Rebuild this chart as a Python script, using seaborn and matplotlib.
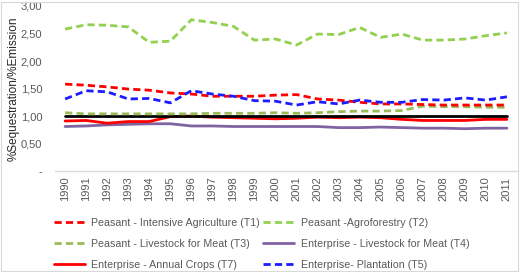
import numpy as np
import pandas as pd
import matplotlib
matplotlib.use("Agg")
import matplotlib.pyplot as plt
import seaborn as sns
from matplotlib.ticker import FixedLocator, FuncFormatter
from matplotlib.lines import Line2D
from matplotlib.patches import Rectangle

years = list(range(1990, 2012))

t1_intensive = [1.58, 1.56, 1.53, 1.49, 1.47, 1.42, 1.40, 1.36, 1.36, 1.36, 1.38, 1.39, 1.31, 1.29, 1.25, 1.22, 1.22, 1.21, 1.20, 1.20, 1.20, 1.20]
t2_agroforestry = [2.58, 2.66, 2.65, 2.62, 2.34, 2.36, 2.75, 2.70, 2.63, 2.38, 2.40, 2.29, 2.49, 2.48, 2.61, 2.43, 2.49, 2.38, 2.38, 2.40, 2.46, 2.51]
t3_livestock = [1.06, 1.04, 1.04, 1.04, 1.04, 1.04, 1.04, 1.05, 1.05, 1.05, 1.06, 1.05, 1.06, 1.08, 1.09, 1.09, 1.10, 1.18, 1.17, 1.17, 1.16, 1.16]
t4_ent_livestock = [0.81, 0.82, 0.84, 0.85, 0.86, 0.86, 0.82, 0.82, 0.81, 0.81, 0.81, 0.81, 0.81, 0.79, 0.79, 0.80, 0.79, 0.78, 0.78, 0.77, 0.78, 0.78]
t7_annual = [0.91, 0.92, 0.87, 0.90, 0.90, 0.99, 1.00, 0.98, 0.97, 0.96, 0.95, 0.96, 0.98, 0.97, 0.98, 0.97, 0.94, 0.92, 0.92, 0.92, 0.94, 0.94]
t5_plantation = [1.31, 1.46, 1.44, 1.31, 1.32, 1.24, 1.46, 1.40, 1.36, 1.28, 1.27, 1.20, 1.26, 1.22, 1.29, 1.25, 1.25, 1.30, 1.29, 1.33, 1.29, 1.35]
reference = [1.00] * len(years)

labels = {
    "T1": "Peasant - Intensive Agriculture (T1)",
    "T2": "Peasant -Agroforestry (T2)",
    "T3": "Peasant - Livestock for Meat (T3)",
    "T4": "Enterprise - Livestock for Meat (T4)",
    "T7": "Enterprise - Annual Crops (T7)",
    "T5": "Enterprise- Plantation (T5)",
}
series = {
    labels["T1"]: t1_intensive,
    labels["T2"]: t2_agroforestry,
    labels["T3"]: t3_livestock,
    labels["T4"]: t4_ent_livestock,
    labels["T7"]: t7_annual,
    labels["T5"]: t5_plantation,
}
colors = {
    labels["T1"]: "#ff0000",
    labels["T2"]: "#92d050",
    labels["T3"]: "#9bbb59",
    labels["T4"]: "#8064a2",
    labels["T7"]: "#ff0000",
    labels["T5"]: "#1c1cff",
}
dashed = {labels["T1"], labels["T2"], labels["T3"], labels["T5"]}
dash_pat = (2.6, 1.5)

rows = []
for name, vals in series.items():
    for y, v in zip(years, vals):
        rows.append({"year": y, "value": v, "series": name})
df = pd.DataFrame(rows)
ref_df = pd.DataFrame({"year": years, "value": reference})

sns.set_style("white")
plt.rcParams["font.family"] = ["Liberation Sans", "DejaVu Sans"]

fig = plt.figure(figsize=(5.2, 2.72), dpi=100)
ax = fig.add_axes([0.105, 0.371, 0.89, 0.607])

lw = 2.0
draw_order = [labels["T4"], labels["T7"], labels["T3"], labels["T1"], labels["T5"], labels["T2"]]
for name in draw_order:
    sub = df[df["series"] == name]
    ls = (0, dash_pat) if name in dashed else "-"
    sns.lineplot(data=sub, x="year", y="value", color=colors[name], lw=lw,
                 linestyle=ls, ax=ax, legend=False)
    if name == labels["T7"]:
        sns.lineplot(data=ref_df, x="year", y="value", color="black", lw=lw, ax=ax, legend=False)

ax.set_xlim(1989.5, 2011.5)
ax.set_ylim(0, 3.0)
ax.xaxis.set_major_locator(FixedLocator(years))
ax.set_xticklabels([str(y) for y in years], rotation=90)
ax.yaxis.set_major_locator(FixedLocator([0, 0.5, 1.0, 1.5, 2.0, 2.5, 3.0]))
ax.yaxis.set_major_formatter(FuncFormatter(lambda v, p: "-" if abs(v) < 1e-9 else f"{v:.2f}".replace(".", ",")))
ax.tick_params(axis="x", labelsize=8, colors="#595959", length=0, pad=4)
ax.tick_params(axis="y", labelsize=8, colors="#595959", length=0, pad=9)
ax.set_xlabel("")
ax.set_ylabel("%Sequestration/%Emission", fontsize=8.5, color="#262626")
ax.yaxis.set_label_coords(-0.076, 0.5)
for s in ["top", "right", "left"]:
    ax.spines[s].set_visible(False)
ax.spines["bottom"].set_color("#d9d9d9")
ax.spines["bottom"].set_linewidth(1.0)
ax.grid(False)

legend_order = ["T1", "T3", "T7", "T2", "T4", "T5"]
handles = []
for k in legend_order:
    name = labels[k]
    ls = (0, dash_pat) if name in dashed else "-"
    handles.append(Line2D([], [], color=colors[name], lw=lw, linestyle=ls))
fig.legend(handles, [labels[k] for k in legend_order], ncol=2, loc="upper left",
           bbox_to_anchor=(0.103, 0.2), bbox_transform=fig.transFigure,
           frameon=False, fontsize=7.7, handlelength=2.9, handletextpad=0.6,
           columnspacing=0.35, labelspacing=1.05, borderaxespad=0, borderpad=0,
           labelcolor="#595959")

fig.patches.append(Rectangle((0.002, 0.004), 0.995, 0.99, transform=fig.transFigure,
                             fill=False, edgecolor="#d9d9d9", lw=0.8))
fig.savefig("out.png", dpi=100)
